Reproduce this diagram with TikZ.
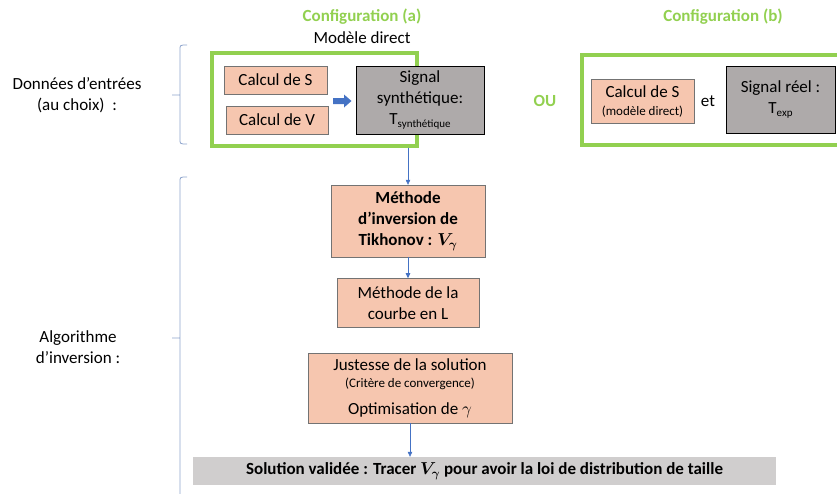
\documentclass[tikz,border=0pt]{standalone}
\usepackage{amsmath}
\usepackage{fontspec}
\setmainfont{Carlito}
\usetikzlibrary{positioning,arrows.meta}
\definecolor{vert}{HTML}{92D050}
\definecolor{saumon}{HTML}{F6C6AF}
\definecolor{grisbox}{HTML}{AEAAAA}
\definecolor{grisbar}{HTML}{D0CECE}
\definecolor{bleu}{HTML}{4472C4}
\definecolor{accol}{HTML}{8EA4CC}
\newcommand{\petitindice}[1]{\raisebox{-3pt}{\fontsize{11}{11}\selectfont #1}}

\begin{document}
\begin{tikzpicture}[%
    x=1pt,
    y=-1pt,
    >={Triangle[length=5pt,width=4.5pt]},
    font=\fontsize{17}{21}\selectfont,
    boite/.style={%
      rectangle,
      draw=black!55,
      fill=saumon,
      inner sep=0pt,
      align=center
    },
    gris/.style={%
      rectangle,
      draw=black,
      line width=1pt,
      fill=grisbox,
      inner sep=0pt,
      align=center
    },
    cadre/.style={%
      rectangle,
      draw=vert,
      line width=3.2pt,
      inner sep=0pt
    },
    titre/.style={%
      text=vert,
      font=\fontsize{17}{21}\selectfont\bfseries
    },
    fleche/.style={%
      ->,
      draw=bleu,
      line width=0.6pt
    },
    accolade/.style={%
      draw=accol,
      line width=0.8pt
    }
  ]
    \useasboundingbox (0,0) rectangle (837,493);

    \node[cadre, minimum width=205pt, minimum height=93pt] (cfgA) at (314.5,99.5) {};
    \node[cadre, minimum width=270pt, minimum height=90pt] (cfgB) at (717,100) {};

    \node[titre] (titreA) at (362,17) {Configuration (a)};
    \node (modele) at (362,38) {Modèle direct};
    \node[titre] (titreB) at (723,17) {Configuration (b)};
    \node[titre] (ou) at (545,101) {OU};

    \node[boite, minimum width=103pt, minimum height=28pt] (calcS) at (275.5,80) {Calcul de S};
    \node[boite, minimum width=102pt, minimum height=28pt] (calcV) at (277,120) {Calcul de V};
    \node[gris, minimum width=128pt, minimum height=68pt] (synth) at (420,100) {Signal\\synthétique:\\T\petitindice{synthétique}};
    \fill[bleu] (333,98) -- (344,98) -- (344,94.5) -- (351.5,101) -- (344,107.5) -- (344,104) -- (333,104) -- cycle;

    \node[boite, minimum width=103pt, minimum height=44pt] (calcSb) at (642.5,101) {Calcul de S\\[-3pt]{\fontsize{13}{13}\selectfont (modèle direct)}};
    \node (et) at (708,101) {et};
    \node[gris, minimum width=109pt, minimum height=67pt] (reel) at (780.5,99.5) {Signal réel :\\T\petitindice{exp}};

    \node[align=center] (donnees) at (77,95) {Données d’entrées\\(au choix)\ \ :};
    \node[align=center] (algo) at (78,347) {Algorithme\\d’inversion :};

    \node[boite, font=\fontsize{17}{21}\selectfont\bfseries, minimum width=154pt, minimum height=72pt] (tikh) at (408,221) {Méthode\\d’inversion de\\Tikhonov : $\boldsymbol{V_\gamma}$};
    \node[boite, minimum width=142pt, minimum height=49pt] (courbe) [below=21pt of tikh] {Méthode de la\\courbe en L};
    \node[boite, minimum width=204pt, minimum height=70pt] (juste) [below=25pt of courbe, xshift=2pt] {Justesse de la solution\\[-4pt]{\fontsize{13}{13}\selectfont (Critère de convergence)}\\[6pt]Optimisation de $\gamma$};
    \node[rectangle, fill=grisbar, minimum width=583pt, minimum height=28pt, font=\fontsize{17}{21}\selectfont\bfseries] (solution) at (484.5,471) {Solution validée : Tracer $\boldsymbol{V_\gamma}$ pour avoir la loi de distribution de taille};

    \draw[accolade] (187,45) .. controls (180,45) .. (180,50) -- (180,139) .. controls (180,144) .. (187,144)
                    (180,95) -- (172,95);
    \draw[accolade] (187,177) .. controls (180,177) .. (180,182) -- (180,495)
                    (180,338) -- (172,338);

    \path (tikh.north |- cfgA.south) edge[fleche] (tikh)
          (tikh) edge[fleche] (courbe)
          (juste) edge[fleche] (juste |- solution.north)
          ;
  \end{tikzpicture}
\end{document}
